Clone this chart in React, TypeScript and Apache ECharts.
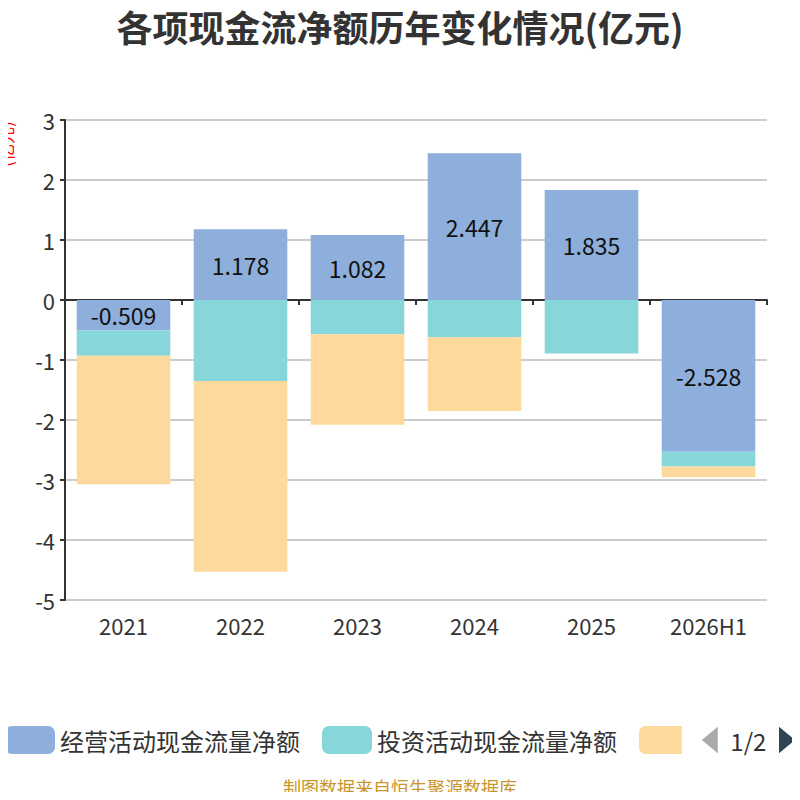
import { useEffect, useRef } from "react"
import * as echarts from "echarts"

const categories = ["2021", "2022", "2023", "2024", "2025", "2026H1"]
const seriesNames = ["经营活动现金流量净额", "投资活动现金流量净额", "筹资活动现金流量净额"]
const operating = [-0.509, 1.178, 1.082, 2.447, 1.835, -2.528]
const investing = [-0.42, -1.35, -0.57, -0.62, -0.89, -0.245]
const financing = [-2.14, -3.18, -1.51, -1.23, 0, -0.18]
const colors = ["#8eaedb", "#87d6d9", "#fdd99b"]

const FONT = "'Noto Sans CJK SC', 'Noto Sans', sans-serif"

export default function App() {
  const chartRef = useRef<HTMLDivElement>(null)

  useEffect(() => {
    if (!chartRef.current) return
    const chart = echarts.init(chartRef.current, null, { renderer: "svg" })

    const values = [operating, investing, financing]

    chart.setOption({
      animation: false,
      textStyle: { fontFamily: FONT },
      title: {
        text: "各项现金流净额历年变化情况(亿元)",
        left: "center",
        top: 3,
        textStyle: { fontSize: 36, fontWeight: "bold", color: "#333", fontFamily: FONT },
      },
      grid: { left: 65, right: 33, top: 120, bottom: 200, outerBoundsMode: "none" },
      legend: {
        type: "scroll",
        left: 0,
        right: 0,
        top: 721,
        itemWidth: 50,
        itemHeight: 28,
        itemGap: 22,
        icon: "roundRect",
        textStyle: { fontSize: 24, color: "#333", fontFamily: FONT },
        pageIconSize: [16, 28],
        pageIconColor: "#2f4554",
        pageIconInactiveColor: "#aaa",
        pageButtonItemGap: 2,
        pageButtonGap: 20,
        pageTextStyle: { fontSize: 24, color: "#333", fontFamily: FONT },
        data: seriesNames,
      },
      xAxis: [
        {
          type: "category",
          data: categories,
          position: "bottom",
          axisLine: { onZero: true, lineStyle: { color: "#333", width: 2 } },
          axisTick: { show: true, length: 5, lineStyle: { color: "#333", width: 2 } },
          axisLabel: { show: false },
        },
        {
          type: "category",
          data: categories,
          position: "bottom",
          axisLine: { show: false, onZero: false },
          axisTick: { show: false },
          axisLabel: { margin: 14, fontSize: 22, color: "#333", fontFamily: FONT },
        },
      ],
      yAxis: {
        type: "value",
        min: -5,
        max: 3,
        interval: 1,
        axisLine: { show: true, lineStyle: { color: "#333", width: 2 } },
        axisTick: { show: true, length: 5, lineStyle: { color: "#333", width: 2 } },
        axisLabel: { fontSize: 22, color: "#333", margin: 10, fontFamily: FONT },
        splitLine: { lineStyle: { color: "#ccc", width: 2 } },
      },
      graphic: [
        {
          type: "text",
          x: 5,
          y: 144,
          rotation: Math.PI / 2,
          style: {
            text: "(亿元)",
            fill: "#ff0000",
            fontSize: 17,
            fontFamily: FONT,
            align: "center",
            verticalAlign: "middle",
          },
        },
        {
          type: "text",
          left: "center",
          top: 778,
          style: {
            text: "制图数据来自恒生聚源数据库",
            fill: "#c9952b",
            fontSize: 18,
            fontFamily: FONT,
          },
        },
      ],
      series: seriesNames.map((name, i) => ({
        name,
        type: "bar",
        stack: "total",
        barWidth: "80%",
        xAxisIndex: 0,
        data: values[i],
        itemStyle: { color: colors[i] },
        label:
          i === 0
            ? {
                show: true,
                position: "inside",
                fontSize: 23,
                color: "#111",
                fontFamily: FONT,
                formatter: (p: { value: number }) => p.value.toFixed(3),
              }
            : { show: false },
      })),
    })

    return () => {
      chart.dispose()
    }
  }, [])

  return <div ref={chartRef} style={{ width: 800, height: 800, margin: -8 }} />
}
